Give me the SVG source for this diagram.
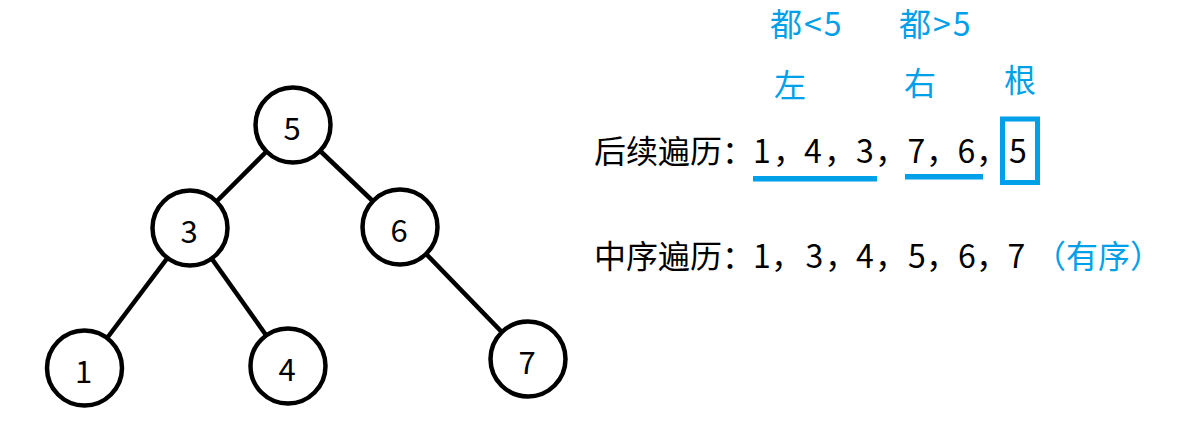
<svg xmlns="http://www.w3.org/2000/svg" width="1203" height="436" viewBox="0 0 1203 436">
<style>
.edge{stroke:#000;stroke-width:4.5;fill:none}
.node circle{fill:#fff;stroke:#000;stroke-width:4.5}
.node text{font-family:"Noto Sans CJK SC","Noto Sans",sans-serif;font-size:31px;fill:#000;text-anchor:middle}
.t{font-family:"Noto Sans CJK SC","Noto Sans",sans-serif;font-size:32px;fill:#000}
.d{text-anchor:middle}
.b{fill:#00A0E9}
</style>
<rect width="1203" height="436" fill="#fff"/>
<g id="connectors">
<line class="edge" x1="293" y1="125" x2="190" y2="228"/>
<line class="edge" x1="293" y1="125" x2="400" y2="227"/>
<line class="edge" x1="190" y1="228" x2="84.5" y2="368"/>
<line class="edge" x1="190" y1="228" x2="288" y2="366"/>
<line class="edge" x1="400" y1="227" x2="528" y2="359"/>
</g>
<g id="node5" class="node"><circle cx="293" cy="125" r="37.5"/><text x="292" y="140">5</text></g>
<g id="node3" class="node"><circle cx="190" cy="228" r="37.5"/><text x="189" y="243">3</text></g>
<g id="node6" class="node"><circle cx="400" cy="227" r="37.5"/><text x="399" y="242">6</text></g>
<g id="node1" class="node"><circle cx="84.5" cy="368" r="37.5"/><text x="83.5" y="383">1</text></g>
<g id="node4" class="node"><circle cx="288" cy="366" r="37.5"/><text x="287" y="381">4</text></g>
<g id="node7" class="node"><circle cx="528" cy="359" r="37.5"/><text x="527" y="374">7</text></g>
<g id="annotations">
<text class="t b" x="770" y="36" letter-spacing="2">都&lt;5</text>
<text class="t b" x="899" y="36" letter-spacing="2">都&gt;5</text>
<text class="t b" x="774" y="97">左</text>
<text class="t b" x="904" y="95">右</text>
<text class="t b" x="1004" y="92">根</text>
<text class="t" x="594" y="163">后续遍历：</text>
<text class="t d" y="163"><tspan x="762">1</tspan><tspan x="813">4</tspan><tspan x="865">3</tspan><tspan x="916.5">7</tspan><tspan x="966.5">6</tspan><tspan x="1018">5</tspan></text>
<text class="t" y="163"><tspan x="773">，</tspan><tspan x="824">，</tspan><tspan x="875">，</tspan><tspan x="926">，</tspan><tspan x="976">，</tspan></text>
<rect x="753" y="176" width="124" height="5.5" class="b"/>
<rect x="905" y="174" width="78" height="5.5" class="b"/>
<rect x="1002.5" y="119" width="35" height="63.5" fill="none" stroke="#00A0E9" stroke-width="5"/>
<text class="t" x="594" y="268">中序遍历：</text>
<text class="t d" y="268"><tspan x="762">1</tspan><tspan x="814.5">3</tspan><tspan x="865">4</tspan><tspan x="917">5</tspan><tspan x="967">6</tspan><tspan x="1016.5">7</tspan></text>
<text class="t" y="268"><tspan x="771">，</tspan><tspan x="825">，</tspan><tspan x="875">，</tspan><tspan x="926">，</tspan><tspan x="976">，</tspan></text>
<text class="t b" x="1034" y="268">（有序）</text>
</g>
</svg>
